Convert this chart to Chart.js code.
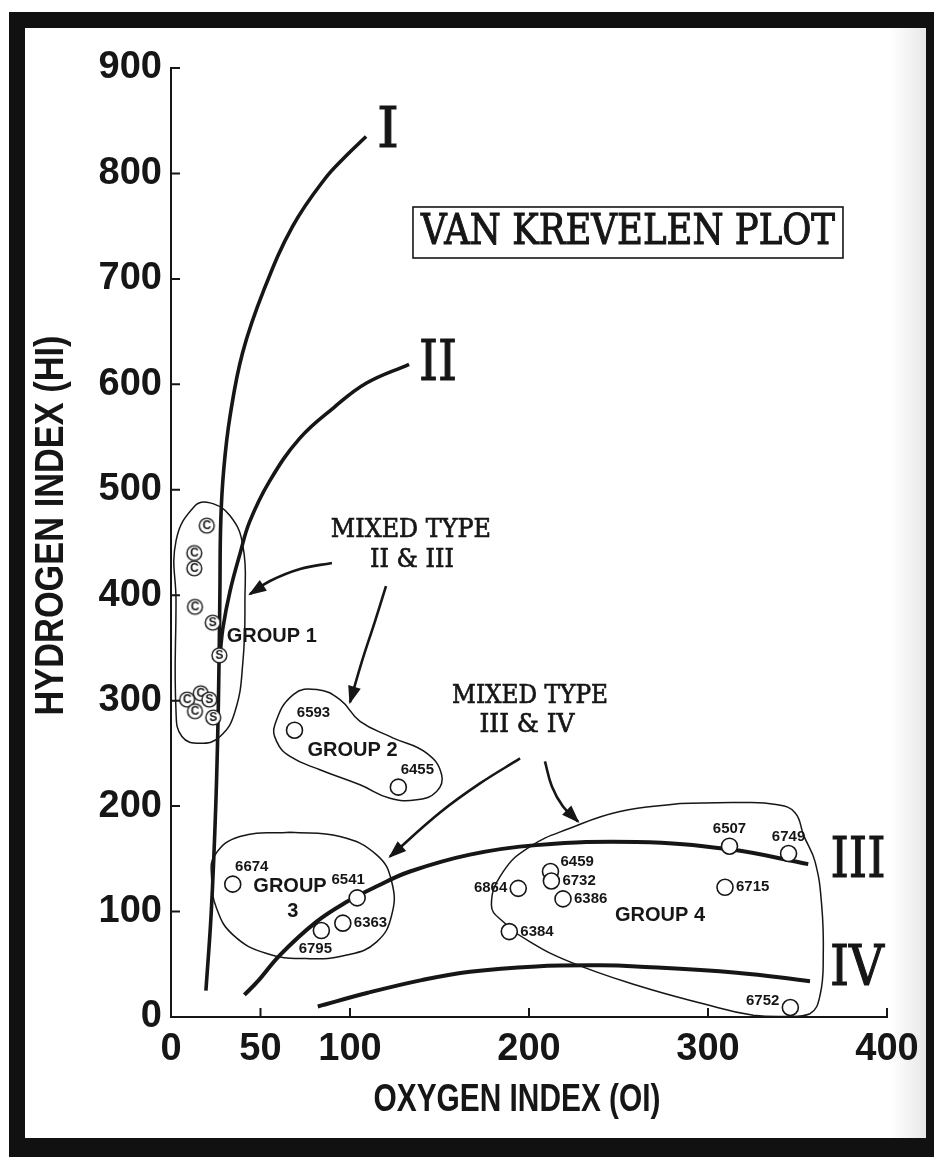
<!DOCTYPE html>
<html>
<head>
<meta charset="utf-8">
<script src="https://cdn.jsdelivr.net/npm/chart.js@4.4.1/dist/chart.umd.min.js"></script>
<style>
  html, body { margin: 0; padding: 0; background: #fff; }
  #plot { display: block; }
</style>
</head>
<body>
<canvas id="plot" width="934" height="1162"></canvas>
<script>
// axis ticks
const xTicks = [0, 50, 100, 200, 300, 400];
const yTicks = [0, 100, 200, 300, 400, 500, 600, 700, 800, 900];

// kerogen type curves (oxygen index, hydrogen index)
const typeI_OI = [19.5, 22.5, 25, 26.5, 27.3, 27.8, 29.5, 33, 40, 52, 68, 86, 98, 109];
const typeI_HI = [25, 100, 200, 300, 400, 470, 520, 570, 630, 690, 750, 795, 817, 835];
const typeII_OI = [27.5, 29, 33, 38.5, 44, 55, 72, 91, 109, 133];
const typeII_HI = [345, 369, 404, 439, 470, 508, 549, 578, 601, 619];
const typeIII_OI = [41, 48, 61, 81, 98, 115, 133.5, 167, 204, 260, 312, 356];
const typeIII_HI = [21, 33, 59, 90, 109, 124, 138, 154, 163, 166, 159, 145];
const typeIV_OI = [82, 110, 140, 167, 204, 240, 260, 316, 357];
const typeIV_HI = [10, 23, 35, 43, 48, 49, 48, 42, 34];

// group 1 samples marked C and S
const cOI = [16.6, 20, 13, 13, 13.4, 9, 13.4];
const cHI = [307, 466, 440, 425.5, 389, 301, 290];
const sOI = [23.3, 27, 21.4, 23.6];
const sHI = [374, 343, 301, 284];

// numbered samples
const sampleId = ['6593', '6455', '6674', '6541', '6363', '6795', '6507', '6749', '6459', '6732', '6864', '6386', '6715', '6384', '6752'];
const sampleOI = [69, 127, 34.5, 104, 96, 84, 312, 345, 212, 212.5, 194, 219, 309.5, 189, 346];
const sampleHI = [272, 218, 126, 113, 89, 82, 162, 155, 138, 129, 122, 112, 123, 81, 9];
const sampleLabelSide = ['ne', 'ne', 'ne', 'nw', 'e', 's', 'n', 'n', 'en', 'e', 'w', 'e', 'e', 'e', 'wn'];

// group outlines
const group1OI = [2.8, 2.8, 13.4, 21.8, 33, 40.2, 41.3, 40.2, 35.8, 27.4, 16.2, 6.1, 2.8, 2.8];
const group1HI = [394.5, 451.5, 484.8, 487.6, 475.3, 446.8, 394.5, 337.5, 290, 266, 259.5, 266, 290, 394.5];
const group2OI = [124.2, 142.8, 151.2, 148.4, 137.3, 122.3, 105.6, 83.2, 66.5, 59, 58.1, 68.3, 81.4, 94.4, 105.6, 124.2];
const group2HI = [264.5, 250.3, 229.8, 213.9, 206, 207.5, 220.2, 234.5, 247.1, 261.4, 277.6, 305.8, 310.6, 301, 280.4, 264.5];
const group3OI = [66.5, 94.4, 114.9, 123.3, 123.3, 114.9, 98.2, 75.8, 53.5, 34.8, 25.5, 22.7, 24.6, 38.5, 66.5];
const group3HI = [175.2, 171.1, 153.7, 128.3, 96.7, 71.3, 58.7, 55.4, 60.2, 77.7, 102.9, 131.5, 153.7, 171.1, 175.2];
const group4OI = [284.4, 317.9, 338, 348.5, 353.5, 359.8, 363.5, 364.4, 362.6, 357, 344, 325.3, 297.4, 260.2, 222.9, 200.6, 185.6, 179, 185.6, 200.6, 222.9, 250.8, 284.4];
const group4HI = [202.5, 203.4, 201.5, 194, 172, 147.3, 106.2, 58.7, 20.6, 3.1, 0.5, 1.6, 12.6, 30.1, 52.3, 71.3, 90.3, 106.2, 137.8, 161.6, 179, 194.9, 202.5];

// arrows from the "mixed type" notes
const arrowToG1_OI = [89.9, 72.1, 55.3, 44.1];
const arrowToG1_HI = [430.6, 424.9, 413.5, 401.1];
const arrowToG2_OI = [120.1, 114, 106.7, 100];
const arrowToG2_HI = [408.7, 375.5, 337.5, 298.5];
const arrowToG3_OI = [195, 172.6, 150.3, 122.3];
const arrowToG3_HI = [245.2, 221.5, 193.9, 152.1];
const arrowToG4_OI = [208.9, 212.8, 219, 227.4];
const arrowToG4_HI = [242.4, 218.6, 199.6, 185.4];

// text notes placed in the plot
const noteText = ['I', 'II', 'III', 'IV', 'MIXED TYPE', 'II & III', 'MIXED TYPE', 'III & IV', 'GROUP 1', 'GROUP 2', 'GROUP', '3', 'GROUP 4'];
const noteOI = [121.2, 149.2, 383.8, 383.2, 134, 134.6, 200.6, 198.9, 56.3, 101.4, 66.5, 68, 273.2];
const noteHI = [839, 618, 147, 44.6, 462, 433.4, 304.4, 277, 360.7, 252.7, 123.6, 99.9, 96.3];
const noteKind = ['roman', 'roman', 'roman', 'roman', 'mixed', 'mixed', 'mixed', 'mixed', 'group', 'group', 'group', 'group', 'group'];
const noteWidth = [22, 38, 55, 54, 160, 84, 156, 95, 0, 0, 0, 0, 0];

const plotTitle = 'VAN KREVELEN PLOT';
const titleOI = 255.3, titleHI = 744;
const xTitle = 'OXYGEN INDEX (OI)';
const yTitle = 'HYDROGEN INDEX (HI)';

const INK = '#161616';
const SANS = "'Liberation Sans', Arial, sans-serif";
const SERIF = "'DejaVu Serif', 'Liberation Serif', serif";

const xy = (xs, ys) => xs.map((v, i) => ({ x: v, y: ys[i] }));

function letterMarker(ch) {
  const c = document.createElement('canvas');
  c.width = 19; c.height = 19;
  const g = c.getContext('2d');
  g.beginPath();
  g.arc(9.5, 9.5, 7.4, 0, Math.PI * 2);
  g.fillStyle = '#fff';
  g.fill();
  g.lineWidth = 1.4;
  g.strokeStyle = INK;
  g.stroke();
  g.fillStyle = INK;
  g.font = 'bold 12px ' + SANS;
  g.textAlign = 'center';
  g.textBaseline = 'middle';
  g.fillText(ch, 9.5, 10);
  return c;
}

function line(label, xs, ys, width, tension) {
  return {
    label, data: xy(xs, ys), showLine: true, borderColor: INK, borderWidth: width,
    pointRadius: 0, pointHoverRadius: 0, tension: tension, fill: false, clip: false
  };
}

function arrow(label, xs, ys) {
  const d = line(label, xs, ys, 2.6, 0.4);
  d.arrow = true;
  return d;
}

const datasets = [
  { label: 'S', data: xy(sOI, sHI), pointStyle: letterMarker('S'), clip: false },
  { label: 'C', data: xy(cOI, cHI), pointStyle: letterMarker('C'), clip: false },
  {
    label: 'samples', data: xy(sampleOI, sampleHI), pointRadius: 8, pointBorderWidth: 1.6,
    pointBackgroundColor: '#fff', pointBorderColor: INK, clip: false
  },
  line('Type I', typeI_OI, typeI_HI, 3.6, 0.4),
  line('Type II', typeII_OI, typeII_HI, 3.6, 0.4),
  line('Type III', typeIII_OI, typeIII_HI, 4, 0.4),
  line('Type IV', typeIV_OI, typeIV_HI, 4, 0.4),
  line('Group 1', group1OI, group1HI, 1.5, 0.45),
  line('Group 2', group2OI, group2HI, 1.5, 0.45),
  line('Group 3', group3OI, group3HI, 1.5, 0.45),
  line('Group 4', group4OI, group4HI, 1.5, 0.45),
  arrow('to group 1', arrowToG1_OI, arrowToG1_HI),
  arrow('to group 2', arrowToG2_OI, arrowToG2_HI),
  arrow('to group 3', arrowToG3_OI, arrowToG3_HI),
  arrow('to group 4', arrowToG4_OI, arrowToG4_HI)
];

// draw text centred on (cx, cy), squeezed to a width and optionally thickened
function fitText(g, text, cx, cy, font, width, stroke, rot) {
  g.save();
  g.font = font;
  g.textAlign = 'center';
  g.textBaseline = 'middle';
  const w = g.measureText(text).width;
  g.translate(cx, cy);
  if (rot) g.rotate(rot);
  if (width) g.scale(width / w, 1);
  g.fillText(text, 0, 0);
  if (stroke) {
    g.lineWidth = stroke;
    g.strokeStyle = g.fillStyle;
    g.strokeText(text, 0, 0);
  }
  g.restore();
}

const paper = {
  id: 'paper',
  beforeDraw(chart) {
    const g = chart.ctx, W = chart.width;
    g.save();
    g.fillStyle = '#fff';
    g.fillRect(0, 0, W, chart.height);
    const shade = g.createLinearGradient(890, 0, 926, 0);
    shade.addColorStop(0, 'rgba(0,0,0,0)');
    shade.addColorStop(1, 'rgba(0,0,0,0.09)');
    g.fillStyle = shade;
    g.fillRect(890, 28, 36, 1110);
    g.fillStyle = '#111';
    g.fillRect(9, 12, W - 9, 16);
    g.fillRect(9, 12, 16, 1145);
    g.fillRect(926, 12, W - 926, 1145);
    g.fillRect(9, 1138, W - 9, 19);
    g.restore();
  }
};

const innerTicks = {
  id: 'innerTicks',
  afterDraw(chart) {
    const { x, y } = chart.scales;
    const a = chart.chartArea, g = chart.ctx;
    g.save();
    g.strokeStyle = INK;
    g.lineWidth = 2;
    g.beginPath();
    xTicks.forEach(v => {
      if (!v) return;
      const p = x.getPixelForValue(v);
      g.moveTo(p, a.bottom); g.lineTo(p, a.bottom - 9);
    });
    yTicks.forEach(v => {
      if (!v) return;
      const p = y.getPixelForValue(v);
      g.moveTo(a.left, p); g.lineTo(a.left + 9, p);
    });
    g.stroke();
    g.restore();
  }
};

const notes = {
  id: 'notes',
  afterDatasetsDraw(chart) {
    const { x, y } = chart.scales;
    const a = chart.chartArea;
    const g = chart.ctx;
    g.save();
    g.fillStyle = INK;

    // arrow heads
    chart.data.datasets.forEach((ds, i) => {
      if (!ds.arrow) return;
      const pts = chart.getDatasetMeta(i).data;
      const tip = pts[pts.length - 1];
      let px = tip.cp1x, py = tip.cp1y;
      if (px === undefined || Math.hypot(tip.x - px, tip.y - py) < 1) {
        px = pts[pts.length - 2].x; py = pts[pts.length - 2].y;
      }
      const ang = Math.atan2(tip.y - py, tip.x - px);
      g.save();
      g.translate(tip.x, tip.y);
      g.rotate(ang);
      g.beginPath();
      g.moveTo(2, 0);
      g.lineTo(-16, -6.5);
      g.lineTo(-16, 6.5);
      g.closePath();
      g.fill();
      g.restore();
    });

    // sample numbers
    const meta = chart.getDatasetMeta(2);
    g.font = 'bold 15px ' + SANS;
    g.textBaseline = 'middle';
    meta.data.forEach((p, i) => {
      const side = sampleLabelSide[i];
      let dx = 0, dy = 0, align = 'center';
      if (side === 'n') { dy = -17; }
      else if (side === 'ne') { dx = 19; dy = -17; }
      else if (side === 'nw') { dx = -9; dy = -18; }
      else if (side === 's') { dx = -6; dy = 18; }
      else if (side === 'e') { dx = 11; align = 'left'; }
      else if (side === 'en') { dx = 10; dy = -10; align = 'left'; }
      else if (side === 'w') { dx = -11; align = 'right'; }
      else if (side === 'wn') { dx = -11; dy = -7; align = 'right'; }
      g.textAlign = align;
      g.fillText(sampleId[i], p.x + dx, p.y + dy);
    });

    // notes
    noteText.forEach((t, i) => {
      const cx = x.getPixelForValue(noteOI[i]);
      const cy = y.getPixelForValue(noteHI[i]);
      const kind = noteKind[i];
      if (kind === 'roman') fitText(g, t, cx, cy, '56px ' + SERIF, noteWidth[i], 1.2);
      else if (kind === 'mixed') fitText(g, t, cx, cy, '26px ' + SERIF, noteWidth[i], 0.7);
      else fitText(g, t, cx, cy, 'bold 20px ' + SANS, 0, 0);
    });

    // boxed title
    const tx = x.getPixelForValue(titleOI), ty = y.getPixelForValue(titleHI);
    fitText(g, plotTitle, tx, ty + 1, '42px ' + SERIF, 414, 1.1);
    g.strokeStyle = INK;
    g.lineWidth = 1.6;
    g.strokeRect(tx - 215, ty - 25.5, 430, 51);

    // axis titles, condensed like the original lettering
    fitText(g, xTitle, (a.left + a.right) / 2 - 12, 1101, 'bold 38px ' + SANS, 287, 0);
    fitText(g, yTitle, 52, (a.top + a.bottom) / 2 - 17, 'bold 41px ' + SANS, 380, 0, -Math.PI / 2);
    g.restore();
  }
};

new Chart(document.getElementById('plot'), {
  type: 'scatter',
  data: { datasets },
  options: {
    responsive: false,
    animation: false,
    events: [],
    layout: { padding: { left: 22, right: 47, top: 68, bottom: 40 } },
    plugins: { legend: { display: false }, tooltip: { enabled: false } },
    scales: {
      x: {
        type: 'linear', min: 0, max: 400,
        grid: { display: false, drawTicks: false },
        border: { display: true, color: INK, width: 2 },
        afterBuildTicks: s => { s.ticks = xTicks.map(v => ({ value: v })); },
        afterFit: s => { s.height = 1162 - 1017 - 40; },
        ticks: { color: INK, padding: 10, maxRotation: 0, autoSkip: false, font: { family: SANS, size: 38, weight: 'bold' } }
      },
      y: {
        type: 'linear', min: 0, max: 900,
        grid: { display: false, drawTicks: false },
        border: { display: true, color: INK, width: 2 },
        afterBuildTicks: s => { s.ticks = yTicks.map(v => ({ value: v })); },
        afterFit: s => { s.width = 171 - 22; },
        ticks: { color: INK, padding: 9, autoSkip: false, font: { family: SANS, size: 38, weight: 'bold' } }
      }
    }
  },
  plugins: [paper, innerTicks, notes]
});
</script>
</body>
</html>
